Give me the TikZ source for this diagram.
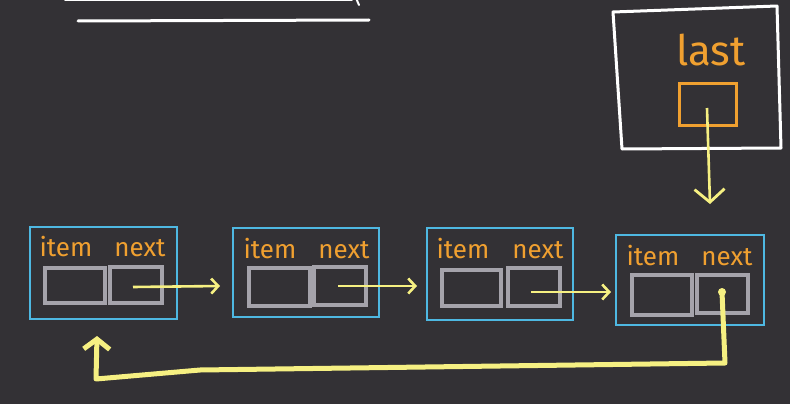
\documentclass[tikz,border=0pt]{standalone}
\usepackage{fontspec}
\setmainfont{Fira Sans}
\usetikzlibrary{arrows.meta}
\definecolor{bg}{RGB}{51,49,53}
\definecolor{nodeblue}{RGB}{78,184,226}
\definecolor{lblorange}{RGB}{240,160,48}
\definecolor{cellgray}{RGB}{165,163,171}
\definecolor{penyellow}{RGB}{246,240,130}
\tikzset{
  nodebox/.style={draw=nodeblue, line width=2pt, minimum width=#1, minimum height=90pt, inner sep=0pt},
  cell/.style={draw=cellgray, line width=3.2pt, inner sep=0pt},
  lbl/.style={text=lblorange, font=\fontsize{26}{26}\selectfont\mdseries, inner sep=0pt},
  ptr/.style={draw=penyellow, line width=2.6pt, -{Straight Barb[length=7pt,width=15pt,line width=2.6pt]}},
  bigptr/.style={draw=penyellow, line width=2.6pt, -{Straight Barb[length=13pt,width=30pt,line width=2.8pt]}},
  loopptr/.style={draw=penyellow, line width=5pt, line join=round, -{Straight Barb[length=10pt,width=26pt,line width=5pt]}},
  chalk/.style={draw=white, line width=3pt, line join=round, line cap=round}
}
\begin{document}
\begin{tikzpicture}[x=1pt,y=-1pt]
\fill[bg] (0,0) rectangle (790,404);
\useasboundingbox (0,0) rectangle (790,404);
% top strokes
\draw[chalk, line width=2pt] (65,0.5) -- (352,0.5);
\draw[chalk, line width=2pt] (356,-2) -- (359,5);
\draw[chalk] (78,21) -- (369,20);
% last box
\draw[chalk] (613,12) -- (777,6) -- (781,148) -- (622,149) -- cycle;
\node[text=lblorange, font=\fontsize{42}{42}\selectfont, inner sep=0pt] (lastlbl) at (711,50) {last};
\node[draw=lblorange, line width=3pt, minimum width=57pt, minimum height=42pt, inner sep=0pt] (lastcell) at (707.5,104.5) {};
\coordinate (lastsrc) at (707,108);
\coordinate (lasttip) at (710,204);
% list nodes
\node[nodebox=147pt, minimum height=92pt] (n1) at (103.5,273) {};
\node[nodebox=146pt, minimum height=89pt] (n2) at (306,272.5) {};
\node[nodebox=146pt, minimum height=92pt] (n3) at (500,274) {};
\node[nodebox=148pt, minimum height=90pt] (n4) at (690,280) {};
% cells
\node[cell, minimum width=60pt, minimum height=35pt] (i1) at (75,285.5) {};
\node[cell, minimum width=52pt, minimum height=36pt] (x1) at (136,285) {};
\node[cell, minimum width=61pt, minimum height=38pt] (i2) at (279.5,287) {};
\node[cell, minimum width=52pt, minimum height=38pt] (x2) at (340,286) {};
\node[cell, minimum width=59pt, minimum height=36pt] (i3) at (471.5,288) {};
\node[cell, minimum width=52pt, minimum height=38pt] (x3) at (534,287) {};
\node[cell, minimum width=60pt, minimum height=40pt] (i4) at (662,295) {};
\node[cell, minimum width=51pt, minimum height=38pt] (x4) at (722.5,294) {};
% labels
\node[lbl] (li1) at (66,247) {item};
\node[lbl] (lx1) at (140,248) {next};
\node[lbl] (li2) at (270,249) {item};
\node[lbl] (lx2) at (344,250) {next};
\node[lbl] (li3) at (463,249) {item};
\node[lbl] (lx3) at (538,250) {next};
\node[lbl] (li4) at (653,256) {item};
\node[lbl] (lx4) at (727,257) {next};
% pointer sources and targets
\coordinate (s1) at (133,287);
\coordinate (t1) at (220,286);
\coordinate (s2) at (338,286);
\coordinate (t2) at (417,286);
\coordinate (s3) at (531,292);
\coordinate (t3) at (611,292);
\coordinate (s4) at (722,292);
\coordinate (c1) at (725,363);
\coordinate (c2) at (200,370);
\coordinate (c3) at (96,379);
\coordinate (t4) at (97,336);
\draw[ptr] (s1) -- (t1);
\draw[ptr] (s2) -- (t2);
\draw[ptr] (s3) -- (t3);
\draw[bigptr] (lastsrc) -- (lasttip);
\fill[penyellow] (s4) circle (4pt);
\draw[loopptr] (s4) -- (c1) -- (c2) -- (c3) -- (t4);
\end{tikzpicture}
\end{document}
